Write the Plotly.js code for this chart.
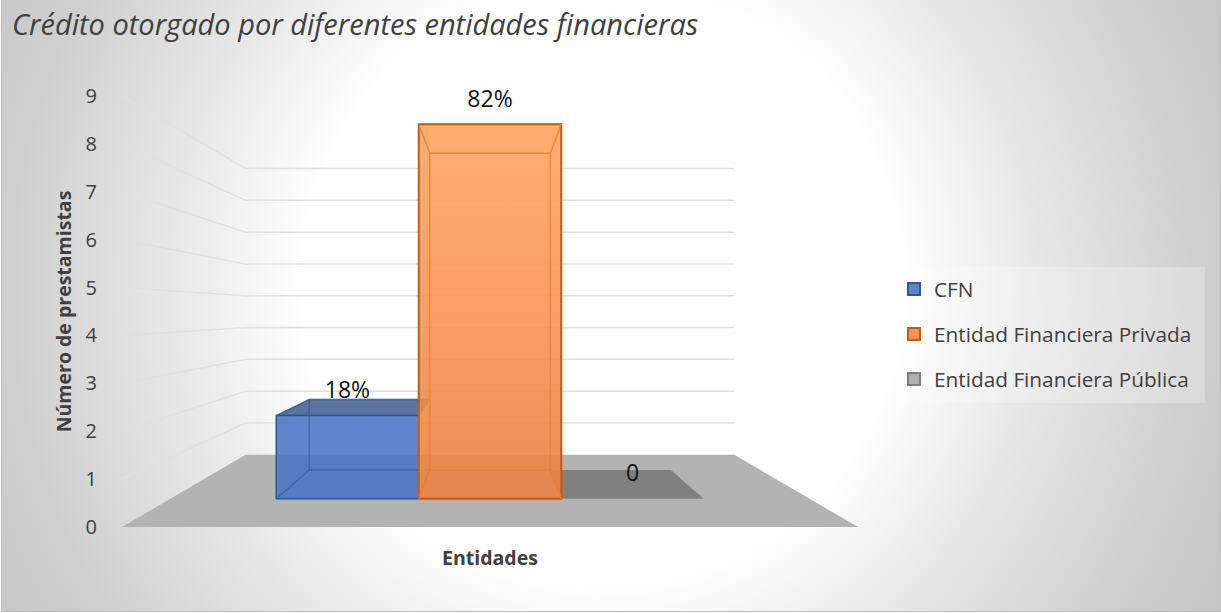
<!DOCTYPE html>
<html>
<head>
<meta charset="utf-8">
<script src="https://cdn.plot.ly/plotly-3.0.1.min.js"></script>
<style>
html,body{margin:0;padding:0;background:#fff;overflow:hidden}
#bg{position:absolute;left:1px;top:-1px;width:1218px;height:611px;border:1px solid #bdbdbd;
background:radial-gradient(circle at 600px 285px,#ffffff 0,#ffffff 300px,#e8e8e8 430px,#d0d0d0 590px,#c4c4c4 720px,#b8b8b8 800px)}
#chart{position:absolute;left:0;top:0;width:1221px;height:613px}
</style>
</head>
<body>
<div id="bg"></div>
<div id="chart"></div>
<script>
// ---- data ----
const seriesNames = ["CFN", "Entidad Financiera Privada", "Entidad Financiera Pública"];
const seriesValues = [2, 9, 0];
const seriesLabels = ["18%", "82%", "0"];
const yTicks = [0, 1, 2, 3, 4, 5, 6, 7, 8, 9];

// ---- styles ----
const FONT = '"Open Sans", "Noto Sans", sans-serif';
const faceFill = ["rgba(68,114,196,0.85)", "rgba(244,133,60,0.82)", "rgba(110,110,110,0.75)"];
const topFill = ["rgba(50,80,135,0.80)", "rgba(255,170,100,0.12)", "rgba(105,105,105,0.70)"];
const edge = ["#2f5597", "#c55a11", "#7f7f7f"];
const innerEdge = ["rgba(47,85,151,0.55)", "rgba(237,125,49,0.8)", "rgba(120,120,120,0.6)"];
const swatchFill = ["#5b85cc", "#f4935a", "#b0b0b0"];

// ---- perspective projection done in axis units ----
const VP = 4.49;          // horizon height in front-plane axis units
const S_WALL = 0.664, S_FRONT = 1, S_BAR_F = 0.869, S_BAR_B = 0.735;
const HALF = 2.244;       // half width of floor, in bar widths
const LABEL_LIFT = 0.49;  // label offset above a bar's front top, in axis units
const px = (x, s) => s * x;
const py = (v, s) => VP + s * (v - VP);
function poly(pts) {
  const xs = pts.map(p => px(p[0], p[2])), ys = pts.map(p => py(p[1], p[2]));
  return {x: xs, y: ys};
}
function face(pts, fill, lineColor, lineW, extra) {
  const p = poly(pts.concat([pts[0]]));
  return Object.assign({type: 'scatter', mode: 'lines', x: p.x, y: p.y, fill: 'toself', fillcolor: fill,
    line: {color: lineColor, width: lineW}, hoverinfo: 'skip', showlegend: false}, extra || {});
}
function segment(pts, color, w) {
  const p = poly(pts);
  return {type: 'scatter', mode: 'lines', x: p.x, y: p.y, line: {color: color, width: w},
    hoverinfo: 'skip', showlegend: false};
}

const traces = [];
// floor
traces.push(face([[-HALF, 0, S_FRONT], [HALF, 0, S_FRONT], [HALF, 0, S_WALL], [-HALF, 0, S_WALL]],
  '#b3b3b3', 'rgba(0,0,0,0)', 0));
// side-wall and back-wall gridlines
yTicks.slice(1).forEach(v => {
  traces.push(segment([[-HALF, v, S_FRONT], [-HALF, v, S_WALL], [HALF, v, S_WALL]], '#e0e0e0', 1.5));
});

// draw order follows the reference: public, CFN, private
[2, 0, 1].forEach(i => {
  const v = seriesValues[i], a = i - 1 - 0.5, b = i - 1 + 0.5;
  const F = S_BAR_F, B = S_BAR_B;
  if (v === 0) {
    traces.push(face([[a, 0, F], [b, 0, F], [b, 0, B], [a, 0, B]], topFill[i], 'rgba(0,0,0,0)', 0));
    return;
  }
  // top face
  traces.push(face([[a, v, F], [b, v, F], [b, v, B], [a, v, B]], topFill[i], innerEdge[i], 1.5));
  // front face
  const extra = i === 1 ? {fillgradient: {type: 'vertical', colorscale: [
    [0, 'rgba(232,130,70,0.92)'], [0.5, 'rgba(248,146,82,0.88)'], [1, 'rgba(255,170,105,0.95)']]}} : {};
  traces.push(face([[a, 0, F], [b, 0, F], [b, v, F], [a, v, F]], faceFill[i], edge[i], i === 1 ? 2 : 1.5, extra));
  // see-through edges
  traces.push(segment([[a, 0, F], [a, 0, B], [a, v, B], [a, v, F]], innerEdge[i], 1.5));
  traces.push(segment([[b, 0, F], [b, 0, B], [b, v, B], [b, v, F]], innerEdge[i], 1.5));
  traces.push(segment([[a, 0, B], [b, 0, B]], innerEdge[i], 1.5));
  traces.push(segment([[a, v, B], [b, v, B]], innerEdge[i], 1.5));
});

// data labels
seriesLabels.forEach((t, i) => {
  traces.push({type: 'scatter', mode: 'text',
    x: [px(i - 1, S_BAR_F)], y: [py(seriesValues[i], S_BAR_F) + LABEL_LIFT], text: [t],
    textposition: 'middle center',
    textfont: {family: FONT, size: 23, color: '#111'}, cliponaxis: false, hoverinfo: 'skip', showlegend: false});
});

// legend entries
seriesNames.forEach((n, i) => {
  traces.push({type: 'bar', name: n, x: [null], y: [null], legendgroup: 'g' + i,
    marker: {color: swatchFill[i], line: {color: edge[i], width: 2}}, hoverinfo: 'skip'});
});

const layout = {
  width: 1221, height: 613,
  paper_bgcolor: 'rgba(0,0,0,0)', plot_bgcolor: 'rgba(0,0,0,0)',
  margin: {l: 122, r: 363, t: 96, b: 86},
  font: {family: FONT, color: '#404040'},
  title: {text: 'Crédito otorgado por diferentes entidades financieras',
    font: {family: FONT, size: 29, color: '#404040', style: 'italic'},
    x: 12 / 1221, xref: 'container', xanchor: 'left', y: 1 - 25 / 613, yref: 'container', yanchor: 'middle'},
  xaxis: {range: [-HALF, HALF], showgrid: false, zeroline: false, showline: false, showticklabels: false, ticks: '',
    title: {text: 'Entidades', font: {family: FONT, size: 19.5, color: '#404040', weight: 'bold'}, standoff: 24}, automargin: false, fixedrange: true},
  yaxis: {range: [0, 9], tickvals: yTicks, showgrid: false, zeroline: false, showline: false,
    ticks: '', ticklabelstandoff: 24, tickfont: {family: FONT, size: 20, color: '#404040'},
    title: {text: 'Número de prestamistas', font: {family: FONT, size: 19.5, color: '#404040', weight: 'bold'}, standoff: 8}, automargin: false, fixedrange: true},
  showlegend: true,
  shapes: [{type: 'rect', layer: 'below', xref: 'paper', yref: 'paper',
    x0: (902 - 122) / 736, x1: (1205 - 122) / 736, y0: (527 - 403) / 431, y1: (527 - 267) / 431,
    fillcolor: 'rgba(255,255,255,0.25)', line: {width: 0}}],
  legend: {x: 894 / 1221, xref: 'container', xanchor: 'left', y: 1 - 269 / 613, yref: 'container', yanchor: 'top',
    bgcolor: 'rgba(0,0,0,0)', font: {family: FONT, size: 20.8, color: '#404040'},
    traceorder: 'grouped', tracegroupgap: 15, itemclick: false, itemdoubleclick: false}
};
Plotly.newPlot('chart', traces, layout, {displayModeBar: false, responsive: false});
</script>
</body>
</html>
